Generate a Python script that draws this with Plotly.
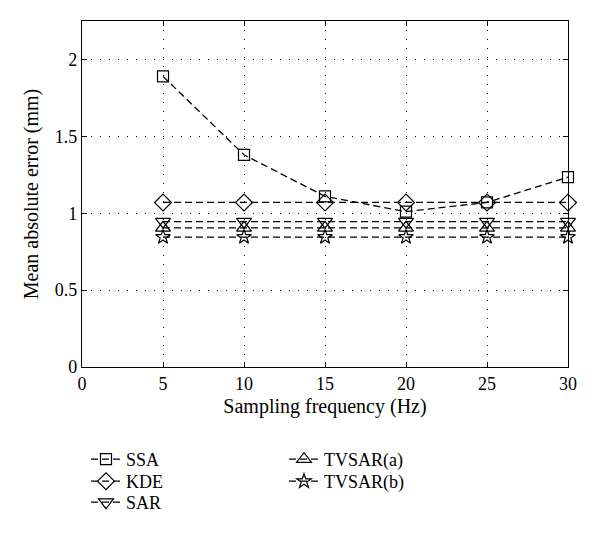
import plotly.graph_objects as go

freq = [5, 10, 15, 20, 25, 30]
ssa = [1.89, 1.38, 1.11, 1.01, 1.07, 1.235]
kde = [1.07, 1.07, 1.07, 1.07, 1.07, 1.07]
sar = [0.945, 0.945, 0.945, 0.945, 0.945, 0.945]
tvsar_a = [0.905, 0.905, 0.905, 0.905, 0.905, 0.905]
tvsar_b = [0.845, 0.845, 0.845, 0.845, 0.845, 0.845]

series = [
    ("SSA", ssa, "square-open", 11, "legend"),
    ("KDE", kde, "diamond-open", 13, "legend2"),
    ("SAR", sar, "triangle-down-open", 13, "legend3"),
    ("TVSAR(a)", tvsar_a, "triangle-up-open", 13, "legend4"),
    ("TVSAR(b)", tvsar_b, "star-open", 11, "legend5"),
]

font = "Liberation Serif, Times New Roman, serif"
fs = 18
tfs = 20
fig = go.Figure()
for name, vals, sym, sz, lg in series:
    fig.add_trace(go.Scatter(
        x=freq, y=vals, name=name, mode="lines+markers",
        line=dict(color="black", width=1.3, dash="7px,4px"),
        marker=dict(symbol=sym, size=sz, color="black", line=dict(color="black", width=1.2)),
        legend=lg, cliponaxis=False, showlegend=True,
    ))

axis_common = dict(
    showline=True, linecolor="black", linewidth=1.2, mirror="ticks",
    ticks="inside", ticklen=5, tickcolor="black", automargin=False,
    showgrid=True, gridcolor="black", gridwidth=1, griddash="1px,8px",
    zeroline=False, tickfont=dict(family=font, size=fs, color="black"),
)

fig.update_xaxes(range=[0, 30], dtick=5,
                 title=dict(text="Sampling frequency (Hz)", font=dict(family=font, size=tfs, color="black"), standoff=6),
                 **axis_common)
fig.update_yaxes(range=[0, 2.25], tickvals=[0, 0.5, 1, 1.5, 2], ticktext=["0", "0.5", "1", "1.5", "2"],
                 title=dict(text="Mean absolute error (mm)", font=dict(family=font, size=tfs, color="black"), standoff=10),
                 **axis_common)

W, H = 592, 529
ML, MR, MT, MB = 74, 32, 13, 170
PW, PH = W - ML - MR, H - MT - MB


def leg(xpix, ypix):
    return dict(
        font=dict(family=font, size=fs, color="black"), bgcolor="rgba(0,0,0,0)",
        orientation="v", xanchor="left", yanchor="top", yref="paper", xref="paper",
        itemwidth=30, x=(xpix - ML) / PW, y=(H - MB - ypix) / PH, visible=True,
    )


fig.update_layout(
    width=W, height=H,
    showlegend=True,
    margin=dict(l=ML, r=MR, t=MT, b=MB),
    paper_bgcolor="white", plot_bgcolor="white",
    font=dict(family=font, size=fs, color="black"),
    legend=leg(78, 433),
    legend2=leg(78, 455),
    legend3=leg(78, 476),
    legend4=leg(276, 433),
    legend5=leg(276, 455),
)

fig.write_html("out.html")
